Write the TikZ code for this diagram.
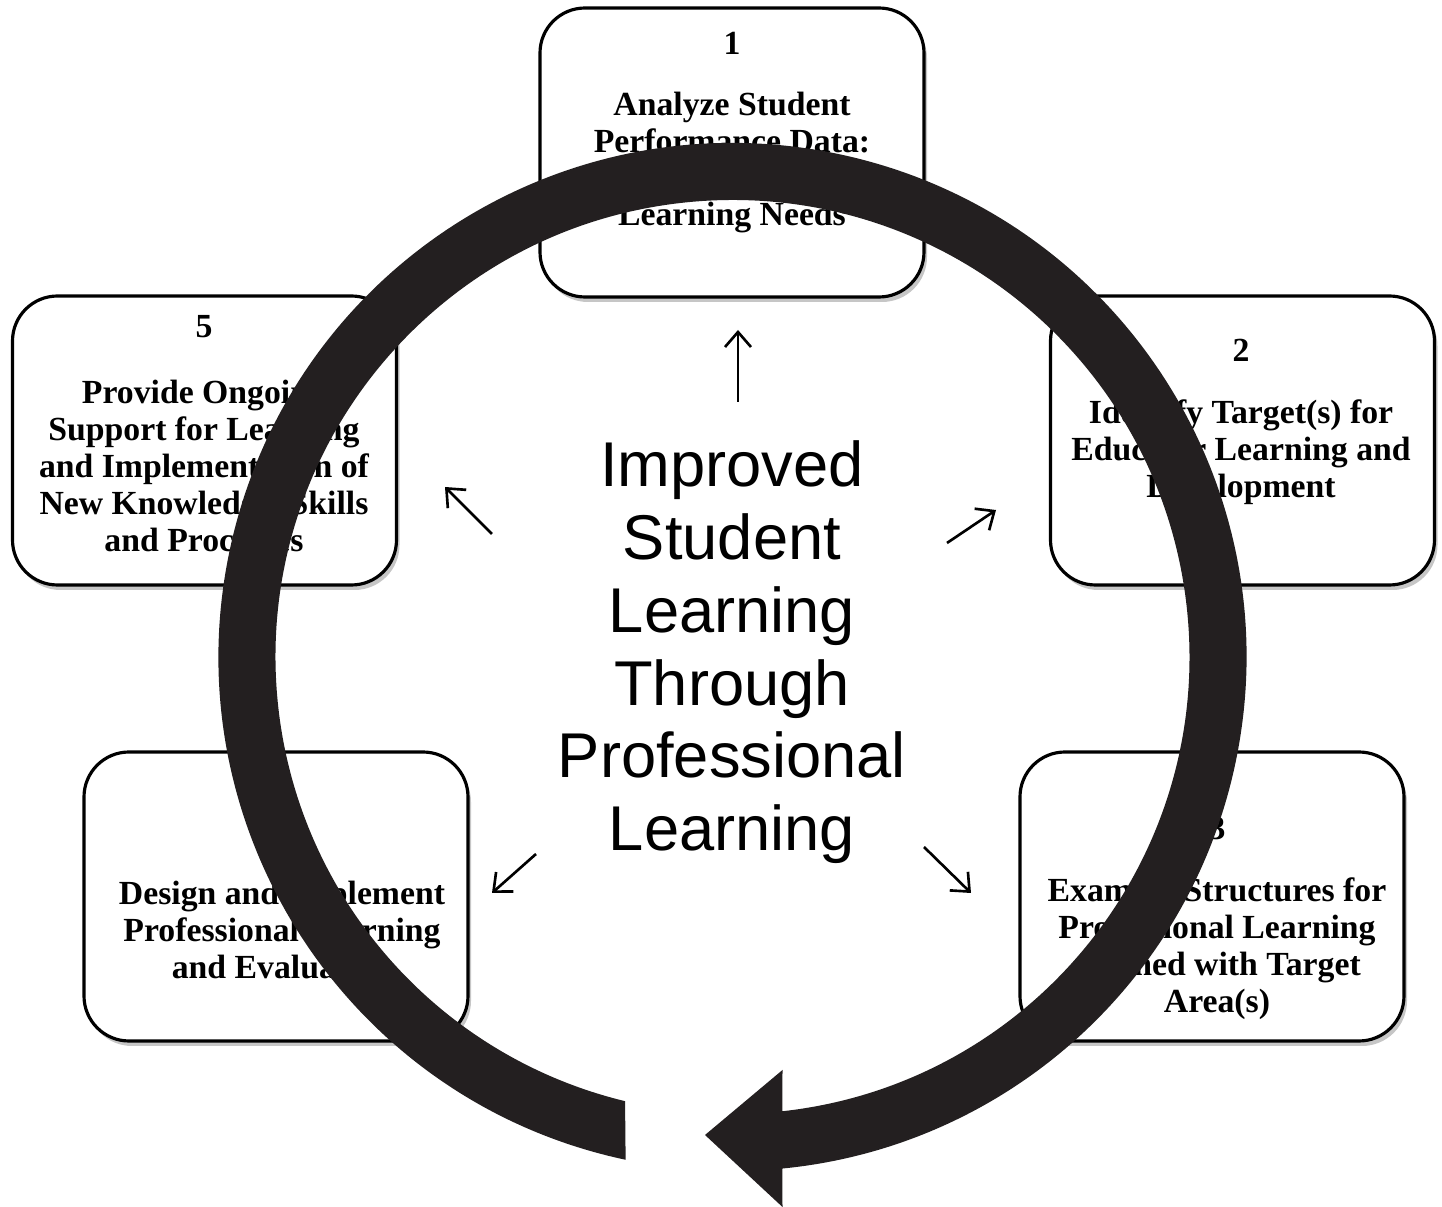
\documentclass[tikz,border=0pt]{standalone}
\usepackage{fontspec}
\setmainfont{Liberation Serif}
\newfontfamily\ringsans{Liberation Sans}
\usetikzlibrary{arrows.meta,shadows}
\definecolor{ringblack}{HTML}{231F20}
\tikzstyle{cyclebox}=[%
	draw=black,
	line width=0.9pt,
	fill=white,
	rounded corners=0.45cm,
	minimum width=3.84cm,
	minimum height=2.89cm,
	drop shadow={shadow xshift=0.03cm, shadow yshift=-0.05cm, opacity=0.45}
]
\tikzstyle{stepnum}=[%
	inner sep=0pt,
	font=\bfseries\fontsize{9.6}{10.5}\selectfont
]
\tikzstyle{steptext}=[%
	inner sep=0pt,
	align=center,
	font=\bfseries\fontsize{9.6}{10.5}\selectfont
]
\tikzstyle{thinarrow}=[%
	-{Straight Barb[length=0.15cm,width=0.26cm]},
	line width=0.75pt
]

\begin{document}
\begin{tikzpicture}
	\useasboundingbox (0,0) rectangle (14.42,-12.07);

	\node[cyclebox] (box1) at (7.32,-1.525) {};
	\node[cyclebox] (box2) at (12.425,-4.405) {};
	\node[cyclebox] (box3) at (12.12,-8.965) {};
	\node[cyclebox] (box4) at (2.76,-8.965) {};
	\node[cyclebox] (box5) at (2.045,-4.405) {};

	\node[stepnum] (num1) at (7.32,-0.43) {1};
	\node[steptext] (text1) at (7.32,-1.625)
		{Analyze Student\\Performance Data:\\Identify Student\\Learning Needs};
	\node[stepnum] (num2) at (12.41,-3.50) {2};
	\node[steptext] (text2) at (12.41,-4.52)
		{Identify Target(s) for\\Educator Learning and\\Development};
	\node[stepnum] (num3) at (12.17,-8.29) {3};
	\node[steptext] (text3) at (12.17,-9.485)
		{Examine Structures for\\Professional Learning\\Aligned with Target\\Area(s)};
	\node[stepnum] (num4) at (2.82,-8.29) {4};
	\node[steptext] (text4) at (2.82,-9.30)
		{Design and Implement\\Professional Learning\\and Evaluation};
	\node[stepnum] (num5) at (2.04,-3.27) {5};
	\node[steptext] (text5) at (2.04,-4.66)
		{Provide Ongoing\\Support for Learning\\and Implementation of\\New Knowledge, Skills\\and Processes};

	\node[align=center, inner sep=0pt, font=\ringsans\fontsize{18}{20.7}\selectfont] (goal)
		at (7.32,-6.525) {Improved\\Student\\Learning\\Through\\Professional\\Learning};

	\coordinate (upS) at (7.38,-4.02);
	\coordinate (upE) at (7.38,-3.30);
	\coordinate (ulS) at (4.92,-5.34);
	\coordinate (ulE) at (4.45,-4.87);
	\coordinate (urS) at (9.47,-5.43);
	\coordinate (urE) at (9.96,-5.10);
	\coordinate (llS) at (5.36,-8.54);
	\coordinate (llE) at (4.92,-8.93);
	\coordinate (lrS) at (9.24,-8.47);
	\coordinate (lrE) at (9.71,-8.93);
	\foreach \a in {up,ul,ur,ll,lr} {
		\draw[thinarrow] (\a S) -- (\a E);
	}

	\begin{scope}[shift={(7.325,-6.57)}]
		\fill[ringblack] (258:5.14)
			arc[start angle=258, end angle=-84.42, radius=5.14]
			-- (0.50,-5.50)
			-- (-0.275,-4.78)
			-- (0.50,-4.13)
			-- (-83.72:4.57)
			arc[start angle=-83.72, end angle=256.4, radius=4.57]
			-- cycle;
	\end{scope}
\end{tikzpicture}
\end{document}
